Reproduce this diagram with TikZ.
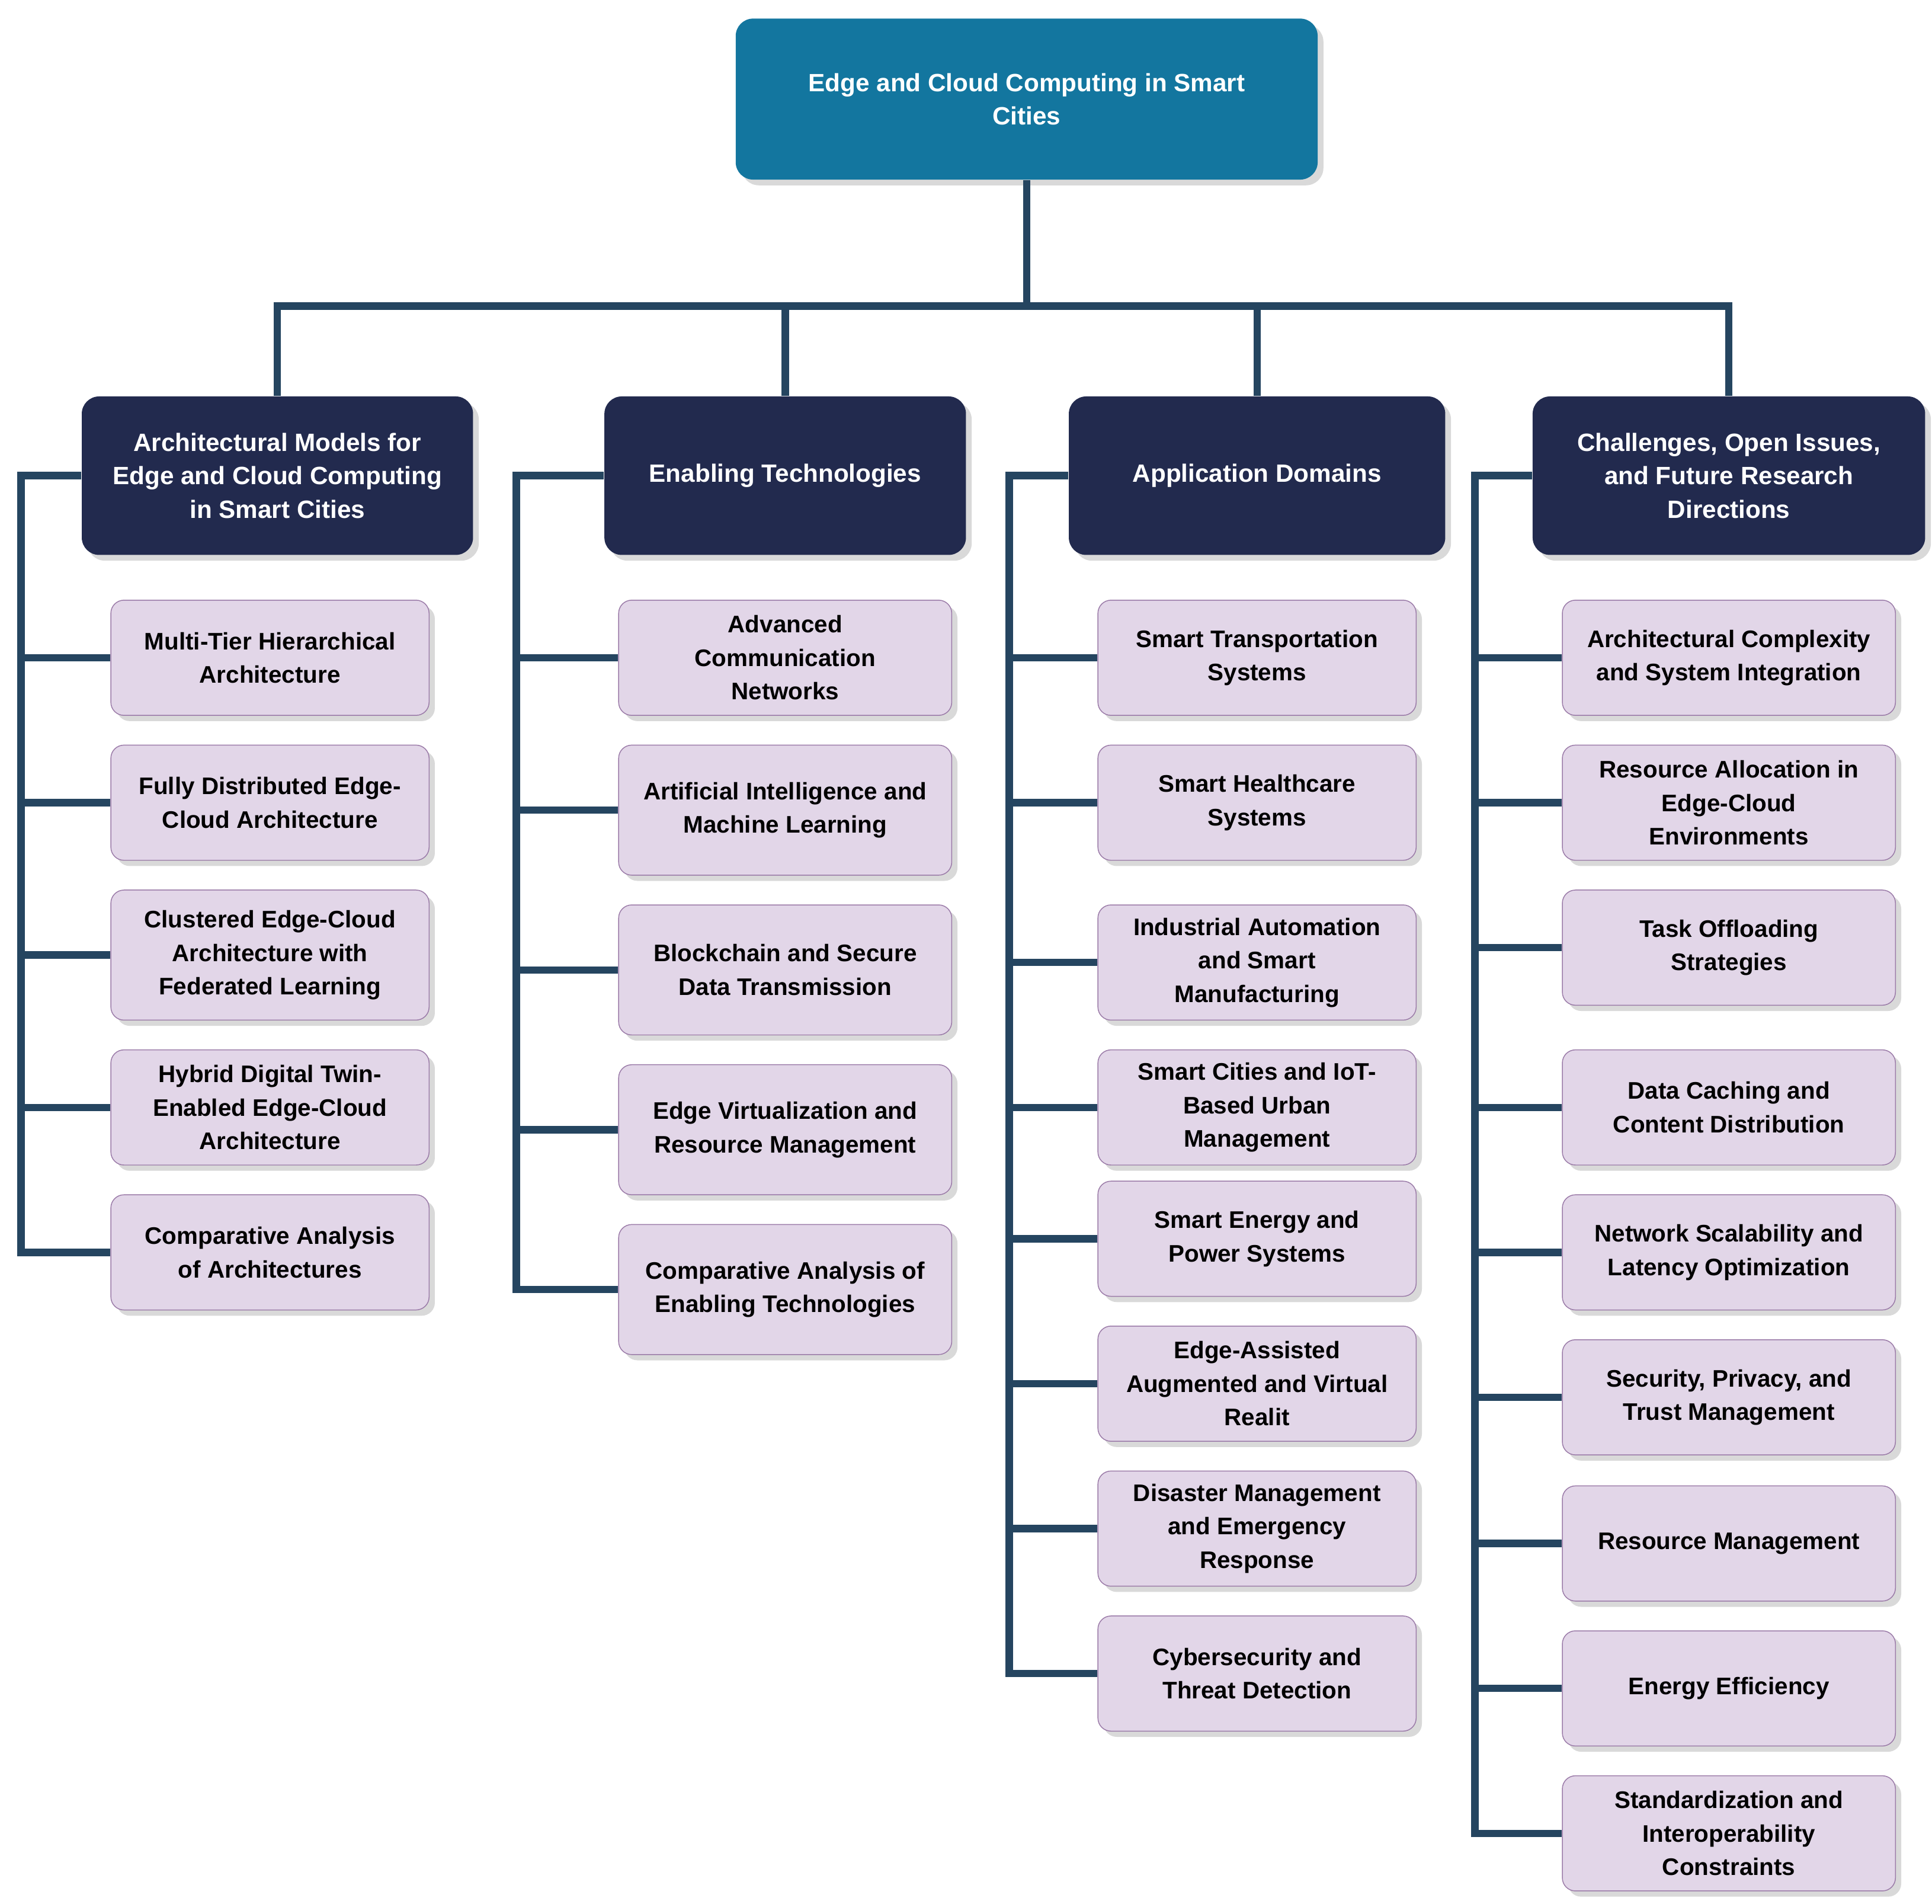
\documentclass[tikz,border=0pt]{standalone}
\usepackage{fontspec}
\setmainfont{Liberation Sans}
\usetikzlibrary{shadows}
\definecolor{rootblue}{HTML}{13769F}
\definecolor{catnavy}{HTML}{222A4E}
\definecolor{leaffill}{HTML}{E2D6E8}
\definecolor{leafdraw}{HTML}{9B7BA8}
\definecolor{linkcol}{HTML}{254560}
\begin{document}
\begin{tikzpicture}[
    x=0.02cm, y=-0.02cm,
    rootnode/.style={rectangle, rounded corners=8pt, fill=rootblue, text=white, font=\bfseries\fontsize{11.5}{15.4}\selectfont, align=center, drop shadow={opacity=0.3}},
    catnode/.style={rectangle, rounded corners=8pt, fill=catnavy, text=white, font=\bfseries\fontsize{11.5}{15.4}\selectfont, align=center, minimum height=2.56cm, drop shadow={opacity=0.3}},
    leafnode/.style={rectangle, rounded corners=6pt, fill=leaffill, draw=leafdraw, text=black, font=\bfseries\fontsize{11}{15.4}\selectfont, align=center, drop shadow={opacity=0.3}},
    link/.style={draw=linkcol, line width=3.4pt}
]
\useasboundingbox (0,0) rectangle (1560,1537);

% root and categories
\node[rootnode, minimum width=9.4cm, minimum height=2.6cm](root) at (829,80) {Edge and Cloud Computing in Smart\\Cities};
\node[catnode, minimum width=6.32cm](arch) at (224,384) {Architectural Models for\\Edge and Cloud Computing\\in Smart Cities};
\node[catnode, minimum width=5.84cm](tech) at (634,384) {Enabling Technologies};
\node[catnode, minimum width=6.08cm](app) at (1015,384) {Application Domains};
\node[catnode, minimum width=6.34cm](chal) at (1396,384) {Challenges, Open Issues,\\and Future Research\\Directions};

\coordinate (hub) at (829,247);
\draw[link] (root.south) -- (hub);
\draw[link] (hub) -| (arch.north);
\draw[link] (hub) -| (tech.north);
\draw[link] (hub) -| (app.north);
\draw[link] (hub) -| (chal.north);

% architectural models
\node[leafnode, minimum width=5.14cm, minimum height=1.86cm](a1) at (218,531) {Multi-Tier Hierarchical\\Architecture};
\node[leafnode, minimum width=5.14cm, minimum height=1.86cm](a2) at (218,648) {Fully Distributed Edge-\\Cloud Architecture};
\node[leafnode, minimum width=5.14cm, minimum height=2.1cm](a3) at (218,771) {Clustered Edge-Cloud\\Architecture with\\Federated Learning};
\node[leafnode, minimum width=5.14cm, minimum height=1.86cm](a4) at (218,894) {Hybrid Digital Twin-\\Enabled Edge-Cloud\\Architecture};
\node[leafnode, minimum width=5.14cm, minimum height=1.86cm](a5) at (218,1011) {Comparative Analysis\\of Architectures};

% enabling technologies
\node[leafnode, minimum width=5.38cm, minimum height=1.86cm](t1) at (634,531) {Advanced\\Communication\\Networks};
\node[leafnode, minimum width=5.38cm, minimum height=2.1cm](t2) at (634,654) {Artificial Intelligence and\\Machine Learning};
\node[leafnode, minimum width=5.38cm, minimum height=2.1cm](t3) at (634,783) {Blockchain and Secure\\Data Transmission};
\node[leafnode, minimum width=5.38cm, minimum height=2.1cm](t4) at (634,912) {Edge Virtualization and\\Resource Management};
\node[leafnode, minimum width=5.38cm, minimum height=2.1cm](t5) at (634,1041) {Comparative Analysis of\\Enabling Technologies};

% application domains
\node[leafnode, minimum width=5.14cm, minimum height=1.86cm](d1) at (1015,531) {Smart Transportation\\Systems};
\node[leafnode, minimum width=5.14cm, minimum height=1.86cm](d2) at (1015,648) {Smart Healthcare\\Systems};
\node[leafnode, minimum width=5.14cm, minimum height=1.86cm](d3) at (1015,777) {Industrial Automation\\and Smart\\Manufacturing};
\node[leafnode, minimum width=5.14cm, minimum height=1.86cm](d4) at (1015,894) {Smart Cities and IoT-\\Based Urban\\Management};
\node[leafnode, minimum width=5.14cm, minimum height=1.86cm](d5) at (1015,1000) {Smart Energy and\\Power Systems};
\node[leafnode, minimum width=5.14cm, minimum height=1.86cm](d6) at (1015,1117) {Edge-Assisted\\Augmented and Virtual\\Realit};
\node[leafnode, minimum width=5.14cm, minimum height=1.86cm](d7) at (1015,1234) {Disaster Management\\and Emergency\\Response};
\node[leafnode, minimum width=5.14cm, minimum height=1.86cm](d8) at (1015,1351) {Cybersecurity and\\Threat Detection};

% challenges
\node[leafnode, minimum width=5.38cm, minimum height=1.86cm](c1) at (1396,531) {Architectural Complexity\\and System Integration};
\node[leafnode, minimum width=5.38cm, minimum height=1.86cm](c2) at (1396,648) {Resource Allocation in\\Edge-Cloud\\Environments};
\node[leafnode, minimum width=5.38cm, minimum height=1.86cm](c3) at (1396,765) {Task Offloading\\Strategies};
\node[leafnode, minimum width=5.38cm, minimum height=1.86cm](c4) at (1396,894) {Data Caching and\\Content Distribution};
\node[leafnode, minimum width=5.38cm, minimum height=1.86cm](c5) at (1396,1011) {Network Scalability and\\Latency Optimization};
\node[leafnode, minimum width=5.38cm, minimum height=1.86cm](c6) at (1396,1128) {Security, Privacy, and\\Trust Management};
\node[leafnode, minimum width=5.38cm, minimum height=1.86cm](c7) at (1396,1246) {Resource Management};
\node[leafnode, minimum width=5.38cm, minimum height=1.86cm](c8) at (1396,1363) {Energy Efficiency};
\node[leafnode, minimum width=5.38cm, minimum height=1.86cm](c9) at (1396,1480) {Standardization and\\Interoperability\\Constraints};

% spines
\coordinate (sa) at (17,384);
\coordinate (st) at (417,384);
\coordinate (sd) at (815,384);
\coordinate (sc) at (1191,384);
\draw[link] (arch.west) -- (sa) |- (a5.west);
\draw[link] (tech.west) -- (st) |- (t5.west);
\draw[link] (app.west) -- (sd) |- (d8.west);
\draw[link] (chal.west) -- (sc) |- (c9.west);
\foreach \n in {a1,a2,a3,a4}
    \draw[link] (sa |- \n.west) -- (\n.west);
\foreach \n in {t1,t2,t3,t4}
    \draw[link] (st |- \n.west) -- (\n.west);
\foreach \n in {d1,d2,d3,d4,d5,d6,d7}
    \draw[link] (sd |- \n.west) -- (\n.west);
\foreach \n in {c1,c2,c3,c4,c5,c6,c7,c8}
    \draw[link] (sc |- \n.west) -- (\n.west);
\end{tikzpicture}
\end{document}
